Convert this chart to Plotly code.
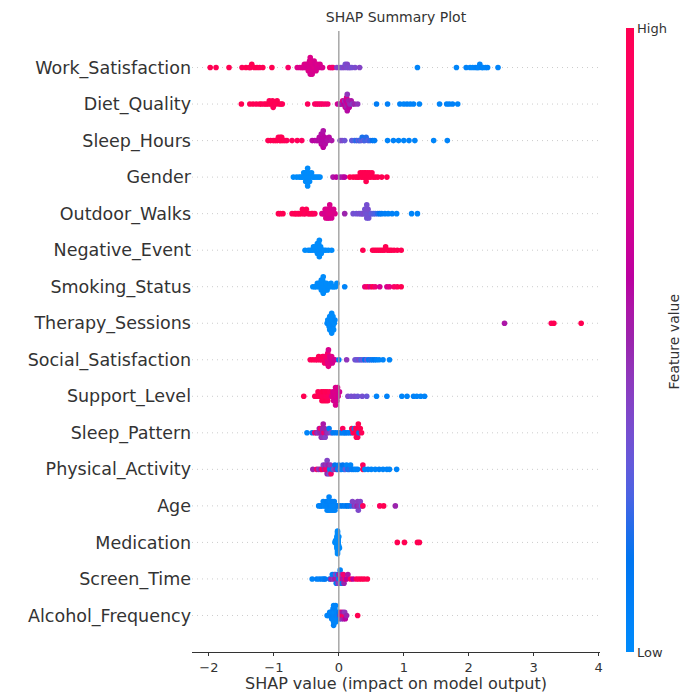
import math
import numpy as np
import plotly.graph_objects as go

# ---------------- data ----------------
features = ["Work_Satisfaction", "Diet_Quality", "Sleep_Hours", "Gender", "Outdoor_Walks",
            "Negative_Event", "Smoking_Status", "Therapy_Sessions", "Social_Satisfaction",
            "Support_Level", "Sleep_Pattern", "Physical_Activity", "Age", "Medication",
            "Screen_Time", "Alcohol_Frequency"]

work_satisfaction_shap = [
    -1.98, -1.89, -1.69, -1.49, -1.43, -1.38, -1.36, -1.34, -1.30, -1.26, -1.22, -1.17, -1.03, -0.78,
    -0.64, -0.60, -0.57, -0.55, -0.53, -0.52, -0.50, -0.49, -0.48, -0.47, -0.46, -0.46, -0.45, -0.45, -0.44, -0.44, -0.43,
    -0.43, -0.42, -0.42, -0.41, -0.40, -0.40, -0.39, -0.38, -0.37, -0.36, -0.35, -0.34, -0.33, -0.31, -0.29, -0.27, -0.25,
    -0.14, -0.11, -0.09,
    -0.03, 0.02, 0.05, 0.08, 0.10, 0.12, 0.13, 0.15, 0.17, 0.20, 0.25, 0.32,
    1.21, 1.81, 1.96, 2.02, 2.06, 2.10, 2.13, 2.15, 2.17, 2.20, 2.22, 2.26, 2.29, 2.45]
work_satisfaction_value = [
    1.0, 0.98, 1.0, 0.97, 1.0, 0.99, 0.96, 1.0, 0.98, 1.0, 0.97, 0.99, 1.0, 0.9,
    0.74, 0.72, 0.75, 0.71, 0.73, 0.72, 0.74, 0.7, 0.72, 0.73, 0.71, 0.72, 0.74, 0.72, 0.7, 0.73, 0.72,
    0.71, 0.72, 0.74, 0.7, 0.72, 0.73, 0.71, 0.72, 0.74, 0.7, 0.72, 0.71, 0.73, 0.7, 0.72, 0.69, 0.71,
    0.85, 0.82, 0.88,
    0.4, 0.38, 0.36, 0.4, 0.35, 0.37, 0.39, 0.36, 0.38, 0.35, 0.37, 0.4,
    0.05, 0.04, 0.06, 0.05, 0.03, 0.05, 0.07, 0.04, 0.05, 0.06, 0.05, 0.04, 0.06, 0.05]

diet_quality_shap = [
    -1.50, -1.37, -1.32, -1.27, -1.22, -1.19, -1.15, -1.12, -1.09, -1.07, -1.05, -1.03, -1.02, -1.01, -0.99, -0.97, -0.95, -0.92, -0.89, -0.87,
    -0.48, -0.37, -0.34, -0.31, -0.28, -0.25, -0.21, -0.17,
    -0.02, 0.01, 0.03, 0.05, 0.06, 0.08, 0.09, 0.10, 0.11, 0.11, 0.12, 0.12, 0.13, 0.13, 0.14, 0.15, 0.16, 0.17, 0.19, 0.21, 0.24, 0.29,
    0.58, 0.75, 0.94, 1.00, 1.05, 1.10, 1.15, 1.24, 1.55, 1.66, 1.70, 1.75, 1.83]
diet_quality_value = [
    1.0, 0.98, 1.0, 0.97, 0.99, 1.0, 0.96, 0.98, 1.0, 0.97, 0.99, 1.0, 0.98, 0.96, 1.0, 0.97, 0.99, 1.0, 0.98, 0.97,
    0.95, 0.92, 0.9, 0.93, 0.88, 0.91, 0.9, 0.87,
    0.7, 0.55, 0.65, 0.5, 0.72, 0.6, 0.45, 0.68, 0.55, 0.62, 0.5, 0.7, 0.58, 0.45, 0.66, 0.52, 0.6, 0.48, 0.55, 0.42, 0.5, 0.45,
    0.1, 0.08, 0.06, 0.05, 0.07, 0.05, 0.06, 0.04, 0.05, 0.06, 0.05, 0.07, 0.05]

sleep_hours_shap = [
    -1.09, -1.05, -1.01, -0.98, -0.95, -0.93, -0.91, -0.90, -0.89, -0.88, -0.86, -0.83, -0.80, -0.72, -0.64, -0.57,
    -0.41, -0.37, -0.34, -0.32, -0.30, -0.29, -0.28, -0.27, -0.27, -0.26, -0.26, -0.25, -0.25, -0.24, -0.24, -0.23, -0.22, -0.21, -0.19, -0.17, -0.15, -0.11,
    0.02, 0.05, 0.09,
    0.20, 0.24, 0.27, 0.30, 0.32, 0.34, 0.36, 0.38, 0.40, 0.42, 0.45, 0.48, 0.52, 0.55,
    0.75, 0.84, 0.92, 1.00, 1.08, 1.17, 1.46, 1.67]
sleep_hours_value = [
    0.98, 1.0, 0.97, 0.99, 1.0, 0.96, 0.98, 1.0, 0.97, 0.99, 1.0, 0.98, 0.96, 0.95, 0.97, 0.94,
    0.58, 0.6, 0.56, 0.58, 0.59, 0.57, 0.58, 0.6, 0.56, 0.58, 0.59, 0.57, 0.58, 0.6, 0.56, 0.58, 0.59, 0.57, 0.58, 0.56, 0.58, 0.55,
    0.35, 0.38, 0.33,
    0.3, 0.25, 0.2, 0.32, 0.22, 0.28, 0.18, 0.3, 0.24, 0.2, 0.27, 0.22, 0.15, 0.1,
    0.05, 0.06, 0.04, 0.05, 0.06, 0.05, 0.04, 0.05]

gender_shap = [
    -0.70, -0.65, -0.61, -0.58, -0.56, -0.54, -0.53, -0.52, -0.51, -0.50, -0.49, -0.49, -0.48, -0.48, -0.47, -0.46, -0.45, -0.44, -0.42, -0.40, -0.38, -0.35, -0.32, -0.29,
    -0.09, -0.04, 0.02, 0.06, 0.09,
    0.17, 0.22, 0.26, 0.29, 0.31, 0.33, 0.35, 0.36, 0.38, 0.39, 0.40, 0.41, 0.42, 0.43, 0.44, 0.46, 0.47, 0.49, 0.51, 0.53, 0.56, 0.60, 0.66, 0.74]
gender_value = [
    0.0, 0.0, 0.0, 0.0, 0.0, 0.0, 0.0, 0.0, 0.0, 0.0, 0.0, 0.0, 0.0, 0.0, 0.0, 0.0, 0.0, 0.0, 0.0, 0.0, 0.0, 0.0, 0.0, 0.0,
    0.55, 0.6, 0.5, 0.55, 0.6,
    1.0, 1.0, 1.0, 1.0, 1.0, 1.0, 1.0, 1.0, 1.0, 1.0, 1.0, 1.0, 1.0, 1.0, 1.0, 1.0, 1.0, 1.0, 1.0, 1.0, 1.0, 1.0, 1.0, 1.0]

outdoor_walks_shap = [
    -0.93, -0.90, -0.86, -0.72, -0.68, -0.66, -0.63, -0.61, -0.58, -0.56, -0.54, -0.52, -0.50, -0.47, -0.45, -0.42, -0.40, -0.37,
    -0.26, -0.24, -0.22, -0.21, -0.20, -0.19, -0.18, -0.17, -0.16, -0.15, -0.15, -0.14, -0.13, -0.12, -0.11, -0.10, -0.08, -0.06,
    0.09,
    0.22, 0.27, 0.31, 0.34, 0.36, 0.38, 0.40, 0.41, 0.42, 0.43, 0.43, 0.44, 0.45, 0.46, 0.48, 0.50, 0.53, 0.56, 0.60, 0.63,
    0.66, 0.71, 0.76, 0.82, 0.89, 1.12, 1.21]
outdoor_walks_value = [
    1.0, 0.98, 1.0, 0.97, 0.99, 1.0, 0.96, 0.98, 1.0, 0.97, 0.99, 0.95, 0.98, 1.0, 0.96, 0.97, 0.99, 0.95,
    0.72, 0.74, 0.7, 0.73, 0.75, 0.71, 0.74, 0.72, 0.73, 0.74, 0.71, 0.72, 0.75, 0.73, 0.7, 0.74, 0.72, 0.73,
    0.5,
    0.35, 0.33, 0.36, 0.34, 0.35, 0.37, 0.33, 0.35, 0.36, 0.34, 0.35, 0.33, 0.36, 0.34, 0.35, 0.3, 0.28, 0.25, 0.2, 0.15,
    0.1, 0.08, 0.06, 0.07, 0.05, 0.04, 0.05]

negative_event_shap = [
    -0.52, -0.47, -0.44, -0.41, -0.39, -0.37, -0.36, -0.35, -0.34, -0.33, -0.33, -0.32, -0.32, -0.31, -0.31, -0.30, -0.30, -0.29, -0.28, -0.27, -0.25, -0.23, -0.20, -0.16, -0.11,
    0.37, 0.52, 0.55, 0.58, 0.61, 0.64, 0.67, 0.70, 0.72, 0.75, 0.78, 0.81, 0.85, 0.90, 0.96]
negative_event_value = [
    0.0, 0.0, 0.0, 0.0, 0.0, 0.0, 0.0, 0.0, 0.0, 0.0, 0.0, 0.0, 0.0, 0.0, 0.0, 0.0, 0.0, 0.0, 0.0, 0.0, 0.0, 0.0, 0.0, 0.0, 0.0,
    1.0, 1.0, 1.0, 1.0, 1.0, 1.0, 1.0, 1.0, 1.0, 1.0, 1.0, 1.0, 1.0, 1.0, 1.0]

smoking_status_shap = [
    -0.40, -0.37, -0.35, -0.33, -0.31, -0.30, -0.29, -0.28, -0.27, -0.27, -0.26, -0.26, -0.25, -0.25, -0.24, -0.24, -0.23, -0.22, -0.21, -0.20, -0.19, -0.18, -0.16, -0.14, -0.12, -0.10, -0.08, -0.05, -0.03,
    0.09,
    0.40, 0.44, 0.48, 0.52, 0.56, 0.63, 0.74, 0.78, 0.85, 0.90, 0.96]
smoking_status_value = [
    0.0, 0.0, 0.0, 0.0, 0.0, 0.0, 0.0, 0.0, 0.0, 0.0, 0.0, 0.0, 0.0, 0.0, 0.0, 0.0, 0.0, 0.0, 0.0, 0.0, 0.0, 0.0, 0.0, 0.0, 0.0, 0.0, 0.0, 0.0, 0.0,
    0.05,
    0.8, 0.95, 0.75, 1.0, 0.85, 0.7, 0.72, 0.78, 0.9, 0.95, 1.0]

therapy_sessions_shap = [
    -0.18, -0.17, -0.16, -0.15, -0.15, -0.14, -0.14, -0.13, -0.13, -0.12, -0.12, -0.12, -0.11, -0.11, -0.10, -0.10, -0.09, -0.09, -0.08, -0.07, -0.06,
    2.55, 3.27, 3.31, 3.73]
therapy_sessions_value = [
    0.02, 0.0, 0.03, 0.0, 0.02, 0.0, 0.01, 0.0, 0.03, 0.0, 0.02, 0.0, 0.01, 0.0, 0.02, 0.0, 0.03, 0.0, 0.01, 0.0, 0.02,
    0.55, 0.95, 1.0, 1.0]

social_satisfaction_shap = [
    -0.44, -0.40, -0.36, -0.33, -0.31, -0.29, -0.27, -0.25, -0.24, -0.23, -0.22, -0.21, -0.20, -0.19, -0.18, -0.18, -0.17, -0.17, -0.16, -0.16, -0.15, -0.14, -0.13, -0.12, -0.11, -0.10, -0.08, -0.06,
    0.00, 0.12,
    0.25, 0.28, 0.31, 0.34, 0.37, 0.40, 0.43, 0.46, 0.49, 0.52, 0.55, 0.58, 0.62, 0.68, 0.78]
social_satisfaction_value = [
    0.95, 1.0, 0.97, 0.95, 0.98, 0.96, 0.94, 0.97, 0.9, 0.95, 0.88, 0.92, 0.85, 0.9, 0.8, 0.92, 0.76, 0.88, 0.78, 0.72, 0.8, 0.73, 0.78, 0.72, 0.75, 0.7, 0.72, 0.68,
    0.1, 0.45,
    0.35, 0.3, 0.38, 0.25, 0.32, 0.15, 0.3, 0.1, 0.2, 0.08, 0.12, 0.06, 0.05, 0.05, 0.04]

support_level_shap = [
    -0.54, -0.37, -0.34, -0.32, -0.30, -0.28, -0.27, -0.26, -0.25, -0.24, -0.23, -0.22, -0.21, -0.20, -0.19, -0.18, -0.17, -0.16, -0.14,
    -0.11, -0.10, -0.09, -0.08, -0.07, -0.06, -0.06, -0.05, -0.05, -0.04, -0.04, -0.03, -0.02, -0.01, 0.01,
    0.14, 0.19, 0.24, 0.29, 0.36, 0.43,
    0.58, 0.74, 0.97, 1.05, 1.15, 1.20, 1.26, 1.32]
support_level_value = [
    1.0, 0.97, 1.0, 0.98, 0.96, 1.0, 0.97, 0.99, 0.95, 1.0, 0.98, 0.96, 0.97, 0.99, 0.95, 0.98, 0.96, 0.94, 0.95,
    0.72, 0.74, 0.7, 0.72, 0.71, 0.74, 0.7, 0.72, 0.71, 0.73, 0.72, 0.7, 0.72, 0.69, 0.68,
    0.38, 0.35, 0.36, 0.33, 0.35, 0.32,
    0.05, 0.06, 0.04, 0.05, 0.06, 0.05, 0.04, 0.05]

sleep_pattern_shap = [
    -0.49, -0.41, -0.37, -0.34, -0.32, -0.30, -0.29, -0.28, -0.27, -0.26, -0.25, -0.25, -0.24, -0.23, -0.22, -0.21, -0.19, -0.17, -0.15, -0.12, -0.09,
    -0.05, -0.01, 0.02, 0.05, 0.06, 0.08, 0.10, 0.13, 0.16, 0.19,
    0.20, 0.22, 0.24, 0.25, 0.26, 0.27, 0.28, 0.28, 0.29, 0.30, 0.31, 0.33, 0.35]
sleep_pattern_value = [
    0.05, 0.1, 0.9, 0.5, 0.45, 0.55, 0.5, 0.9, 0.48, 0.52, 0.5, 0.45, 0.55, 0.85, 0.5, 0.4, 0.5, 0.45, 0.1, 0.35, 0.1,
    0.1, 0.08, 0.12, 0.1, 0.95, 0.08, 0.1, 0.12, 0.08, 0.1,
    1.0, 0.95, 0.1, 1.0, 0.97, 1.0, 0.98, 1.0, 0.96, 1.0, 0.15, 1.0, 0.98]

physical_activity_shap = [
    -0.40, -0.34, -0.31, -0.28, -0.26, -0.24, -0.22, -0.21, -0.20, -0.19, -0.18, -0.18, -0.17, -0.16, -0.15, -0.14, -0.13, -0.12, -0.10, -0.08, -0.06, -0.04, -0.02,
    0.00, 0.02, 0.04, 0.06, 0.08, 0.10, 0.12, 0.14, 0.16, 0.18, 0.20, 0.23, 0.26, 0.29,
    0.37, 0.37, 0.40, 0.45, 0.50, 0.56, 0.62, 0.68, 0.74, 0.78, 0.89]
physical_activity_value = [
    0.5, 0.9, 0.45, 0.5, 0.95, 0.4, 0.55, 0.5, 0.9, 0.45, 0.5, 0.4, 0.85, 0.5, 0.35, 0.1, 0.45, 0.9, 0.1, 0.4, 0.15, 0.5, 0.1,
    0.1, 0.3, 0.05, 0.15, 0.08, 0.3, 0.05, 0.1, 0.2, 0.05, 0.08, 0.1, 0.05, 0.06,
    1.0, 0.95, 0.05, 0.06, 0.05, 0.04, 0.06, 0.05, 0.05, 0.04, 0.05]

age_shap = [
    -0.31, -0.28, -0.26, -0.24, -0.22, -0.20, -0.19, -0.18, -0.17, -0.16, -0.15, -0.15, -0.14, -0.13, -0.12, -0.11, -0.10, -0.09, -0.08, -0.07, -0.06, -0.04, -0.02,
    0.02, 0.06, 0.10, 0.13, 0.16, 0.20,
    0.21, 0.24, 0.26, 0.28, 0.29, 0.30, 0.31, 0.33, 0.35, 0.37,
    0.63, 0.69, 0.87]
age_value = [
    0.05, 0.04, 0.06, 0.05, 0.03, 0.05, 0.07, 0.04, 0.05, 0.06, 0.05, 0.04, 0.06, 0.05, 0.03, 0.05, 0.07, 0.04, 0.05, 0.06, 0.05, 0.04, 0.06,
    0.1, 0.12, 0.08, 0.15, 0.1, 0.2,
    0.4, 0.45, 0.35, 0.5, 0.42, 0.38, 0.45, 0.4, 0.3, 0.95,
    0.95, 1.0, 0.5]

medication_shap = [
    -0.06, -0.05, -0.04, -0.04, -0.03, -0.03, -0.03, -0.03, -0.03, -0.02, -0.02, -0.02, -0.02, -0.02, -0.02, -0.01, -0.01, -0.01, -0.01, 0.00, 0.00, 0.01,
    0.90, 1.01, 1.21, 1.24]
medication_value = [
    0.0, 0.0, 0.0, 0.0, 0.0, 0.0, 0.0, 0.0, 0.0, 0.0, 0.0, 0.0, 0.0, 0.0, 0.0, 0.0, 0.0, 0.0, 0.0, 0.0, 0.0, 0.0,
    1.0, 1.0, 1.0, 1.0]

screen_time_shap = [
    -0.41, -0.34, -0.30, -0.26, -0.23, -0.21,
    -0.14, -0.12, -0.10, -0.08, -0.07, -0.06, -0.05, -0.04, -0.03, -0.02, -0.01, 0.00, 0.00, 0.01, 0.02, 0.03, 0.04, 0.05, 0.06, 0.07, 0.08, 0.10, 0.12,
    0.14, 0.18, 0.22, 0.27, 0.31, 0.35, 0.39, 0.44]
screen_time_value = [
    0.05, 0.08, 0.05, 0.1, 0.06, 0.12,
    0.1, 0.5, 0.08, 0.45, 0.1, 0.55, 0.4, 0.1, 0.5, 0.08, 0.45, 0.1, 0.5, 0.4, 0.05, 0.9, 0.45, 0.1, 0.55, 0.85, 0.5, 0.9, 0.6,
    0.55, 0.95, 0.6, 1.0, 0.95, 1.0, 0.98, 1.0]

alcohol_frequency_shap = [
    -0.18, -0.16, -0.14, -0.13, -0.12, -0.11, -0.10, -0.10, -0.09, -0.09, -0.08, -0.08, -0.08, -0.07, -0.07, -0.06, -0.06, -0.05, -0.05, -0.04, -0.03, -0.02, -0.01, 0.00, 0.01,
    0.02, 0.03, 0.04, 0.05, 0.06, 0.07, 0.08, 0.09, 0.10, 0.12,
    0.29]
alcohol_frequency_value = [
    0.05, 0.04, 0.06, 0.05, 0.03, 0.05, 0.07, 0.04, 0.05, 0.06, 0.05, 0.04, 0.06, 0.05, 0.03, 0.05, 0.07, 0.04, 0.05, 0.06, 0.05, 0.04, 0.06, 0.1, 0.08,
    0.5, 0.9, 0.45, 0.95, 0.55, 0.5, 0.9, 0.45, 0.6, 0.5,
    1.0]

x_ticks = [-2, -1, 0, 1, 2, 3, 4]
x_tick_labels = ["\u22122", "\u22121", "0", "1", "2", "3", "4"]

shap_lists = [work_satisfaction_shap, diet_quality_shap, sleep_hours_shap, gender_shap, outdoor_walks_shap,
              negative_event_shap, smoking_status_shap, therapy_sessions_shap, social_satisfaction_shap,
              support_level_shap, sleep_pattern_shap, physical_activity_shap, age_shap, medication_shap,
              screen_time_shap, alcohol_frequency_shap]
value_lists = [work_satisfaction_value, diet_quality_value, sleep_hours_value, gender_value, outdoor_walks_value,
               negative_event_value, smoking_status_value, therapy_sessions_value, social_satisfaction_value,
               support_level_value, sleep_pattern_value, physical_activity_value, age_value, medication_value,
               screen_time_value, alcohol_frequency_value]


# ---------------- SHAP red_blue colormap (LCH interpolation) ----------------
def lch_to_hex(L, C, h):
    a = C * math.cos(h)
    b = C * math.sin(h)
    fy = (L + 16) / 116
    fx = fy + a / 500
    fz = fy - b / 200

    def finv(t):
        return t ** 3 if t ** 3 > 0.008856 else (t - 16 / 116) / 7.787
    X, Y, Z = 0.95047 * finv(fx), 1.0 * finv(fy), 1.08883 * finv(fz)
    r = 3.2406 * X - 1.5372 * Y - 0.4986 * Z
    g = -0.9689 * X + 1.8758 * Y + 0.0415 * Z
    bl = 0.0557 * X - 0.2040 * Y + 1.0570 * Z

    def gam(c):
        c = 1.055 * c ** (1 / 2.4) - 0.055 if c > 0.0031308 else 12.92 * c
        return int(round(min(max(c, 0), 1) * 255))
    return "#%02x%02x%02x" % (gam(r), gam(g), gam(bl))


blue_lch = (54.0, 70.0, 4.6588)
red_lch = (54.0, 90.0, 0.35470565 + 2 * math.pi)
l_mid = 40.0
colorscale = []
nst = 21
for k in range(nst):
    t = k / (nst - 1)
    L = blue_lch[0] + (l_mid - blue_lch[0]) * (t / 0.5) if t <= 0.5 else l_mid + (red_lch[0] - l_mid) * ((t - 0.5) / 0.5)
    C = blue_lch[1] + (red_lch[1] - blue_lch[1]) * t
    H = blue_lch[2] + (red_lch[2] - blue_lch[2]) * t
    colorscale.append([t, lch_to_hex(L, C, H)])


# ---------------- beeswarm layout (SHAP-style layering) ----------------
def beeswarm(shaps, bin_width=0.03, row_height=0.4):
    s = np.asarray(shaps, dtype=float)
    quant = np.round((s - s.min()) / bin_width)
    inds = np.argsort(quant, kind="stable")
    ys = np.zeros(len(s))
    layer, last = 0, None
    for ind in inds:
        if quant[ind] != last:
            layer = 0
        ys[ind] = math.ceil(layer / 2) * ((layer % 2) * 2 - 1)
        layer += 1
        last = quant[ind]
    ys *= 0.9 * (row_height / np.max(ys + 1))
    return ys


n = len(features)
xs, ys, cs = [], [], []
for i, (sh, vals) in enumerate(zip(shap_lists, value_lists)):
    pos = n - 1 - i
    off = beeswarm(sh)
    xs.extend(sh)
    ys.extend(pos + off)
    cs.extend(vals)

x_range = [-2.26, 4.02]
plot_left, plot_right = 192, 600

fig = go.Figure()
fig.add_trace(go.Scatter(
    x=xs, y=ys, mode="markers",
    marker=dict(size=5.6, color=cs, colorscale=colorscale, cmin=0, cmax=1, line=dict(width=0),
                colorbar=dict(
                    x=(626 - plot_left) / (plot_right - plot_left), xanchor="left", xpad=0, ypad=0,
                    y=0, yanchor="bottom", len=1.005, lenmode="fraction", thickness=8, outlinewidth=0,
                    tickvals=[0, 1], ticktext=["Low", "High"], ticks="",
                    tickfont=dict(family="DejaVu Sans", size=13, color="#333333"))),
    hoverinfo="skip", showlegend=False))

shapes = []
for pos in range(n):
    shapes.append(dict(type="line", xref="x", yref="y", x0=x_range[0], x1=x_range[1], y0=pos, y1=pos,
                       line=dict(color="#cccccc", width=1, dash="1px,4px"), layer="below"))
shapes.append(dict(type="line", xref="x", yref="y", x0=0, x1=0, y0=-1, y1=n,
                   line=dict(color="#999999", width=1.3), layer="above"))

fig.update_layout(
    width=683, height=693,
    margin=dict(l=plot_left, r=683 - plot_right, t=31, b=41),
    paper_bgcolor="white", plot_bgcolor="white",
    font=dict(family="DejaVu Sans", color="#333333"),
    title=dict(text="SHAP Summary Plot", x=0.5, xref="paper", xanchor="center",
               y=1 - 17 / 693, yanchor="middle", font=dict(size=14, color="#333333")),
    shapes=shapes,
    annotations=[dict(text="Feature value", xref="paper", yref="paper",
                      x=(673 - plot_left) / (plot_right - plot_left), y=0.5,
                      xanchor="center", yanchor="middle", textangle=-90, showarrow=False,
                      font=dict(family="DejaVu Sans", size=14, color="#333333"))],
    xaxis=dict(range=x_range, tickvals=x_ticks, ticktext=x_tick_labels, showgrid=False, zeroline=False,
               showline=True, linecolor="#333333", linewidth=1, ticks="outside", ticklen=3,
               tickcolor="#333333", tickfont=dict(size=13, color="#333333"),
               title=dict(text="SHAP value (impact on model output)", standoff=7,
                          font=dict(size=16, color="#333333")),
               automargin=False, fixedrange=True),
    yaxis=dict(range=[-1, n], tickvals=list(range(n)), ticktext=features[::-1], showgrid=False,
               zeroline=False, showline=False, ticks="", tickfont=dict(size=17.5, color="#333333"),
               automargin=False, fixedrange=True),
)

fig.write_html("out.html", config={"displayModeBar": False},
               post_script="document.body.style.margin='0px';")
